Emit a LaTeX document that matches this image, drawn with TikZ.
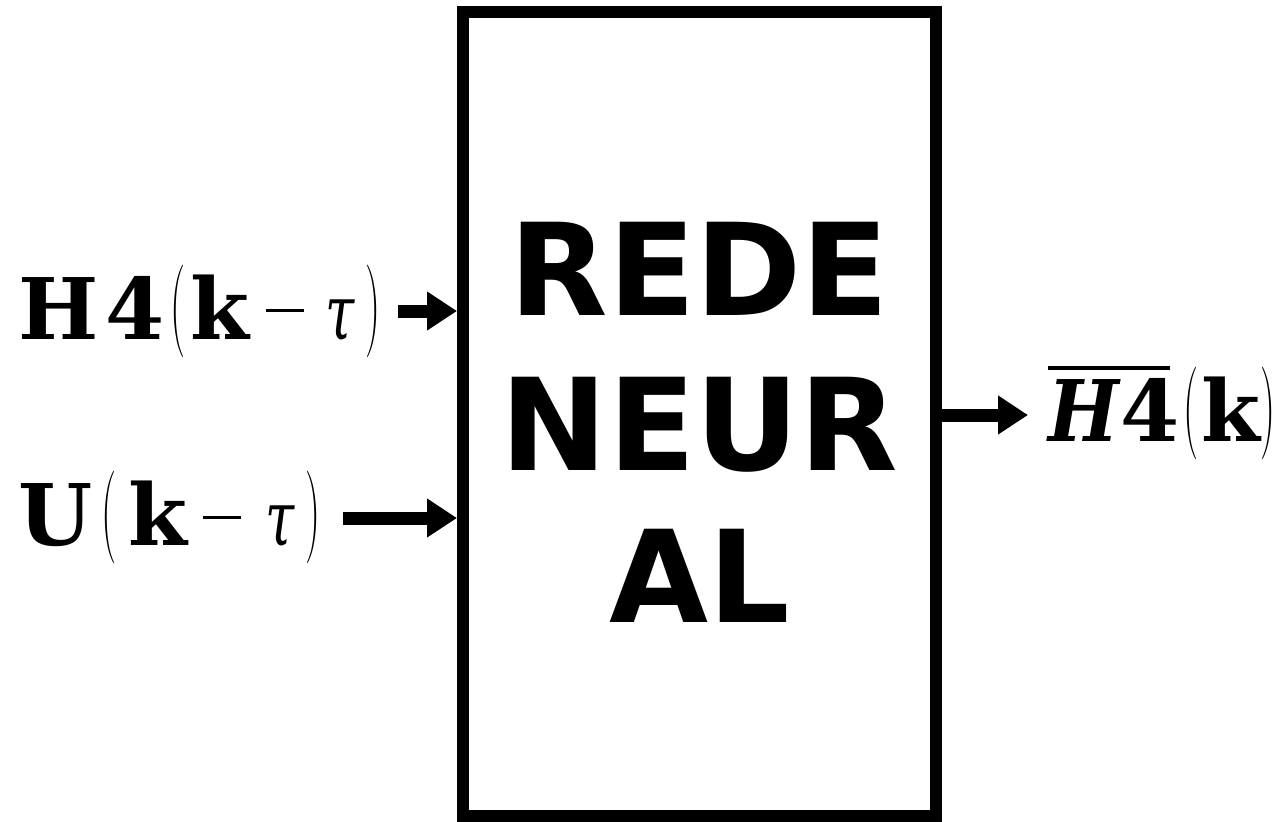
\documentclass[tikz,border=0pt]{standalone}
\usepackage{fontspec}
\usepackage{graphicx}
\usetikzlibrary{arrows.meta}
\newfontfamily\blockfont{DejaVu Sans}
\newfontfamily\symfont{DejaVu Serif}
% fixed-width slot for one glyph of a signal label
\newcommand\gl[2]{\makebox[#1][l]{#2}}
% tall, thin delimiters
\newcommand\lp{\raisebox{2.3pt}{\scalebox{0.5}[1.09]{\rmfamily(}}}
\newcommand\rp{\raisebox{2.3pt}{\scalebox{0.5}[1.09]{\rmfamily)}}}
% minus sign as a thin bar on the math axis
\newcommand\mn[1]{\rule[#1]{19pt}{1.5pt}}
% narrow italic tau
\newcommand\tu{\scalebox{0.62}[0.9]{\itshape τ}}
% overlined group
\newcommand\barred[1]{\vbox{\hrule width 61pt height 2pt\kern 4pt\hbox{#1}}}

\begin{document}
\begin{tikzpicture}[x=0.5pt, y=-0.5pt,
  netbox/.style={draw, line width=6pt, minimum width=236.5pt, minimum height=402pt, inner sep=0pt},
  blocktext/.style={font=\blockfont\bfseries\fontsize{64}{76}\selectfont, anchor=base, inner sep=0pt},
  sig/.style={font=\symfont\fontsize{42.5}{50}\selectfont, anchor=base west, inner sep=0pt},
  flow/.style={line width=6.5pt, -{Triangle[length=15pt,width=18.5pt]}}]
\useasboundingbox (0,0) rectangle (1273,821);

% the network block
\node[netbox] (net) at (699.5,414) {};
\node[blocktext] (t1) at (699.5,315) {REDE};
\node[blocktext] (t2) at (699.5,470) {NEUR};
\node[blocktext] (t3) at (699.5,622) {AL};

% input signals
\node[sig] (h4) at (18,339) {\gl{43.5pt}{\bfseries H}\gl{32.5pt}{\bfseries 4}\gl{10pt}{\lp}\gl{38pt}{\bfseries k}\gl{29.5pt}{\mn{13.75pt}}\gl{20pt}{\tu}\rp};
\node[sig] (u) at (18,545) {\gl{41.5pt}{\bfseries U}\gl{13.5pt}{\lp}\gl{37.5pt}{\bfseries k}\gl{31pt}{\mn{13.25pt}}\gl{20pt}{\tu}\rp};

% estimated output
\node[sig] (out) at (1048,441) {\barred{\gl{36pt}{\scalebox{0.88}[1]{\bfseries\itshape H}}\gl{31.5pt}{\bfseries 4}}\gl{9pt}{\lp}\gl{29.5pt}{\bfseries k}\rp};

% connectors
\coordinate (s1) at (398,311);
\coordinate (s2) at (343,518);
\coordinate (e3) at (1028,415);
\draw[flow] (s1) -- (s1 -| net.west);
\draw[flow] (s2) -- (s2 -| net.west);
\draw[flow] (e3 -| net.east) -- (e3);
\end{tikzpicture}
\end{document}
